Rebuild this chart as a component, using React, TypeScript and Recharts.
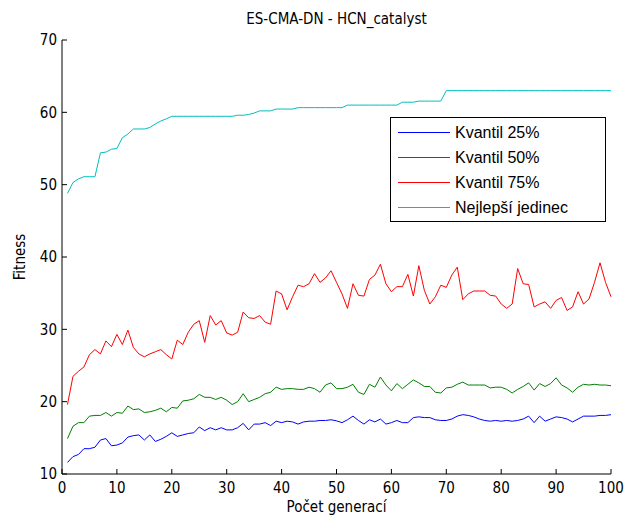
import React from "react";
import { LineChart, Line, XAxis, YAxis, Legend } from "recharts";

// fitness per generation (generations 1..100)
const q25 = [
  11.6, 12.4, 12.7, 13.5, 13.5, 13.7, 14.7, 14.9, 13.9, 14.0,
  14.3, 15.1, 15.3, 15.4, 14.7, 15.4, 14.5, 14.8, 15.2, 15.7,
  15.2, 15.4, 15.6, 15.7, 16.5, 16.0, 16.4, 16.1, 16.4, 16.1,
  16.1, 16.4, 17.0, 16.1, 16.9, 16.9, 17.1, 16.7, 17.3, 17.1,
  17.3, 17.2, 16.9, 17.2, 17.3, 17.3, 17.4, 17.4, 17.5, 17.35,
  17.1, 17.5, 18.0, 17.4, 16.9, 17.5, 17.2, 17.6, 16.9, 17.1,
  17.4, 17.1, 17.1, 17.8, 17.9, 17.8, 17.8, 17.5, 17.4, 17.4,
  17.6, 18.0, 18.2, 18.1, 17.9, 17.6, 17.4, 17.3, 17.4, 17.3,
  17.4, 17.3, 17.4, 17.6, 18.0, 17.1, 18.0, 17.3, 17.6, 17.9,
  17.8, 17.6, 17.2, 17.6, 18.0, 18.0, 18.0, 18.1, 18.1, 18.2,
];

const q50 = [
  14.9, 16.6, 17.1, 17.1, 18.0, 18.1, 18.1, 18.5, 18.0, 18.5,
  18.4, 19.4, 18.9, 19.0, 18.5, 18.6, 18.8, 19.1, 18.6, 19.2,
  19.1, 20.1, 20.2, 20.4, 21.0, 20.6, 20.6, 20.3, 20.6, 20.2,
  19.6, 20.0, 21.1, 20.0, 20.3, 20.6, 21.1, 21.3, 22.0, 21.7,
  21.8, 21.8, 21.7, 21.7, 22.0, 21.8, 21.3, 22.3, 22.6, 21.8,
  21.8, 22.0, 22.4, 21.3, 21.0, 22.4, 22.0, 23.4, 22.3, 21.5,
  22.5, 21.8, 22.4, 23.0, 22.6, 22.1, 22.1, 21.3, 21.2, 21.9,
  22.0, 22.4, 22.7, 22.3, 22.3, 22.3, 22.3, 21.9, 22.0, 22.0,
  21.7, 21.2, 21.7, 22.1, 22.6, 21.6, 22.5, 22.1, 22.5, 23.3,
  22.3, 21.9, 21.3, 22.0, 22.4, 22.3, 22.4, 22.3, 22.3, 22.2,
];

const q75 = [
  19.6, 23.5, 24.2, 24.8, 26.5, 27.2, 26.6, 28.4, 27.6, 29.3,
  27.9, 29.9, 27.5, 26.6, 26.2, 26.6, 26.9, 27.2, 26.5, 25.9,
  28.5, 27.9, 29.6, 30.7, 31.2, 28.2, 31.9, 30.6, 31.2, 29.5,
  29.2, 29.6, 32.4, 31.6, 31.5, 31.9, 31.0, 30.7, 35.3, 34.9,
  32.7, 34.5, 36.1, 35.9, 36.3, 37.7, 36.5, 37.1, 38.1, 36.5,
  34.9, 32.9, 36.3, 34.7, 34.6, 36.9, 37.5, 39.0, 36.3, 35.2,
  35.9, 35.9, 37.6, 34.6, 38.8, 35.4, 33.5, 34.5, 36.1, 35.8,
  37.5, 38.6, 34.1, 34.9, 35.3, 35.3, 35.3, 34.7, 34.6, 33.5,
  32.9, 33.5, 38.4, 36.3, 36.2, 33.1, 33.5, 33.8, 32.9, 34.0,
  34.4, 32.6, 33.1, 35.2, 33.5, 34.2, 36.5, 39.2, 36.5, 34.5,
];

const best = [
  48.8, 50.3, 50.8, 51.1, 51.1, 51.1, 54.4, 54.5, 54.9, 55.0,
  56.5, 57.0, 57.7, 57.7, 57.7, 57.9, 58.4, 58.8, 59.1, 59.45,
  59.45, 59.45, 59.45, 59.45, 59.45, 59.45, 59.45, 59.45, 59.45, 59.45,
  59.45, 59.6, 59.6, 59.7, 59.9, 60.2, 60.2, 60.2, 60.45, 60.45,
  60.45, 60.45, 60.65, 60.65, 60.65, 60.65, 60.65, 60.65, 60.65, 60.65,
  60.65, 61.0, 61.0, 61.0, 61.0, 61.0, 61.0, 61.0, 61.0, 61.0,
  61.0, 61.4, 61.4, 61.4, 61.55, 61.55, 61.55, 61.55, 61.55, 63.0,
  63.0, 63.0, 63.0, 63.0, 63.0, 63.0, 63.0, 63.0, 63.0, 63.0,
  63.0, 63.0, 63.0, 63.0, 63.0, 63.0, 63.0, 63.0, 63.0, 63.0,
  63.0, 63.0, 63.0, 63.0, 63.0, 63.0, 63.0, 63.0, 63.0, 63.0,
];

const xTicks = [0, 10, 20, 30, 40, 50, 60, 70, 80, 90, 100];
const yTicks = [10, 20, 30, 40, 50, 60, 70];

const series = [
  { key: "q25", name: "Kvantil 25%", color: "#0000ff" },
  { key: "q50", name: "Kvantil 50%", color: "#008000" },
  { key: "q75", name: "Kvantil 75%", color: "#ff0000" },
  { key: "best", name: "Nejlepší jedinec", color: "#00bfbf" },
];

const data = q25.map((v, i) => ({
  g: i + 1,
  q25: v,
  q50: q50[i],
  q75: q75[i],
  best: best[i],
}));

const FONT = "'Liberation Sans Narrow', 'DejaVu Sans Condensed', 'Liberation Sans', sans-serif";
const tickStyle = { fill: "#000", fontSize: 15, fontFamily: FONT };

function LegendBox() {
  return (
    <div
      style={{
        border: "1px solid #000",
        background: "#fff",
        width: 214,
        height: 103,
        boxSizing: "content-box",
        fontFamily: "'Liberation Sans', Arial, sans-serif",
        fontSize: 16,
      }}
    >
      <svg width={214} height={103} style={{ display: "block" }}>
        {series.map((s, i) => (
          <g key={s.key}>
            <line x1={7} x2={59} y1={14.5 + i * 25} y2={14.5 + i * 25} stroke={s.color} strokeWidth={1} />
            <text x={64} y={14 + i * 25} dy="0.36em" fill="#000" fontSize={16}>
              {s.name}
            </text>
          </g>
        ))}
      </svg>
    </div>
  );
}

export default function App() {
  return (
    <div style={{ position: "absolute", left: 0, top: 0, width: 624, height: 516, background: "#fff" }}>
      <div
        style={{
          position: "absolute",
          left: 62,
          width: 549,
          top: 10,
          textAlign: "center",
          fontFamily: FONT,
          fontSize: 15,
          color: "#000",
        }}
      >
        ES-CMA-DN - HCN_catalyst
      </div>
      <LineChart
        width={624}
        height={516}
        data={data}
        margin={{ top: 40, right: 13, bottom: 0, left: 0 }}
      >
        <XAxis
          dataKey="g"
          type="number"
          domain={[0, 100]}
          ticks={xTicks}
          interval={0}
          height={42}
          tickSize={-5}
          tickMargin={13}
          tick={tickStyle}
          axisLine={{ stroke: "#000" }}
          tickLine={{ stroke: "#000" }}
          label={{
            value: "Počet generací",
            position: "insideBottom",
            offset: 4,
            style: { fill: "#000", fontSize: 15, fontFamily: FONT },
          }}
        />
        <XAxis
          xAxisId="top"
          orientation="top"
          dataKey="g"
          type="number"
          domain={[0, 100]}
          ticks={xTicks}
          interval={0}
          height={0}
          tickSize={-5}
          tick={false}
          axisLine={{ stroke: "#000" }}
          tickLine={{ stroke: "#000" }}
        />
        <YAxis
          type="number"
          domain={[10, 70]}
          ticks={yTicks}
          interval={0}
          width={62}
          tickSize={-5}
          tickMargin={10}
          tick={tickStyle}
          axisLine={{ stroke: "#000" }}
          tickLine={{ stroke: "#000" }}
          label={{
            value: "Fitness",
            angle: -90,
            position: "insideLeft",
            offset: 20,
            style: { fill: "#000", fontSize: 15, fontFamily: FONT, textAnchor: "middle" },
          }}
        />
        <YAxis
          yAxisId="right"
          orientation="right"
          type="number"
          domain={[10, 70]}
          ticks={yTicks}
          interval={0}
          width={0}
          tickSize={-5}
          tick={false}
          axisLine={{ stroke: "#000" }}
          tickLine={{ stroke: "#000" }}
        />
        <Legend
          layout="horizontal"
          verticalAlign="middle"
          align="center"
          content={<LegendBox />}
          wrapperStyle={{ left: 390, top: 117, width: 216, height: 105 }}
        />
        {series.map((s) => (
          <Line
            key={s.key}
            dataKey={s.key}
            name={s.name}
            stroke={s.color}
            strokeWidth={1}
            dot={false}
            isAnimationActive={false}
          />
        ))}
      </LineChart>
    </div>
  );
}
